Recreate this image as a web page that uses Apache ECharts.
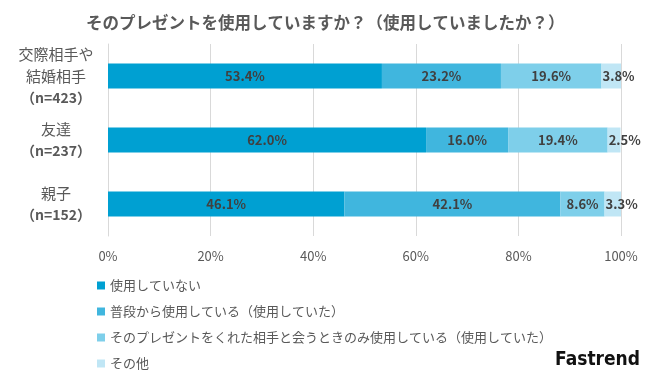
<!DOCTYPE html>
<html><head><meta charset="utf-8">
<script src="https://cdn.jsdelivr.net/npm/echarts@6/dist/echarts.min.js"></script>
<style>html,body{margin:0;padding:0;background:#fff}#c{width:650px;height:390px}</style>
</head><body><div id="c"></div>
<script>
const categories = ['交際相手や\n結婚相手\n（n=423）', '友達\n（n=237）', '親子\n（n=152）'];
const seriesNames = ['使用していない', '普段から使用している（使用していた）', 'そのプレゼントをくれた相手と会うときのみ使用している（使用していた）', 'その他'];
const notUsing = [53.4, 62.0, 46.1];
const usingAlways = [23.2, 16.0, 42.1];
const usingWhenMeeting = [19.6, 19.4, 8.6];
const other = [3.8, 2.5, 3.3];
const tickLabels = ['0%', '20%', '40%', '60%', '80%', '100%'];
const colors = ['#00A0D2', '#40B6DE', '#7ECFEA', '#C0E6F5'];
const values = [notUsing, usingAlways, usingWhenMeeting, other];
const font = '"Noto Sans CJK JP", "Noto Sans", sans-serif';

const chart = echarts.init(document.getElementById('c'));
chart.setOption({
  animation: false,
  textStyle: { fontFamily: font },
  title: {
    text: 'そのプレゼントを使用していますか？（使用していましたか？）',
    left: 81, top: 9,
    textStyle: { fontSize: 16.5, fontWeight: 'bold', color: '#595959', fontFamily: font }
  },
  grid: { left: 108, right: 29, top: 44, bottom: 154, containLabel: false },
  legend: {
    orient: 'vertical', left: 92, top: 274,
    itemWidth: 8, itemHeight: 8, itemGap: 13,
    icon: 'rect',
    textStyle: { fontSize: 13, color: '#595959', fontFamily: font },
    data: seriesNames
  },
  xAxis: {
    type: 'value', min: 0, max: 100, interval: 20,
    axisLine: { show: false }, axisTick: { show: false },
    splitLine: { lineStyle: { color: '#D9D9D9', width: 1 } },
    axisLabel: {
      margin: 14, color: '#595959', fontSize: 13,
      formatter: v => tickLabels[v / 20]
    }
  },
  yAxis: {
    type: 'category', inverse: true, data: categories,
    axisLine: { show: true, lineStyle: { color: '#D9D9D9' } }, axisTick: { show: false },
    axisLabel: {
      align: 'center', margin: 52, color: '#595959', fontSize: 15, lineHeight: 22,
      formatter: v => v.split('\n').map(s => s.startsWith('（') ? '{n|' + s + '}' : s).join('\n'),
      rich: { n: { fontWeight: 'bold', fontSize: 14, color: '#595959', lineHeight: 22 } }
    }
  },
  series: seriesNames.map((n, i) => ({
    name: n, type: 'bar', stack: 'total', barWidth: 25,
    itemStyle: { color: colors[i] },
    label: {
      show: true, position: i === 3 ? 'insideLeft' : 'inside', distance: 1,
      formatter: p => p.value.toFixed(1) + '%',
      color: '#404040', fontWeight: 'bold', fontSize: 13, fontFamily: font
    },
    data: values[i]
  })),
  graphic: [{
    type: 'text', right: 10, top: 351,
    style: { text: 'Fastrend', fontSize: 19, fontWeight: 'bold', fill: '#111', fontFamily: '"DejaVu Sans Condensed", "Liberation Sans Narrow", sans-serif' }
  }]
});
</script></body></html>
